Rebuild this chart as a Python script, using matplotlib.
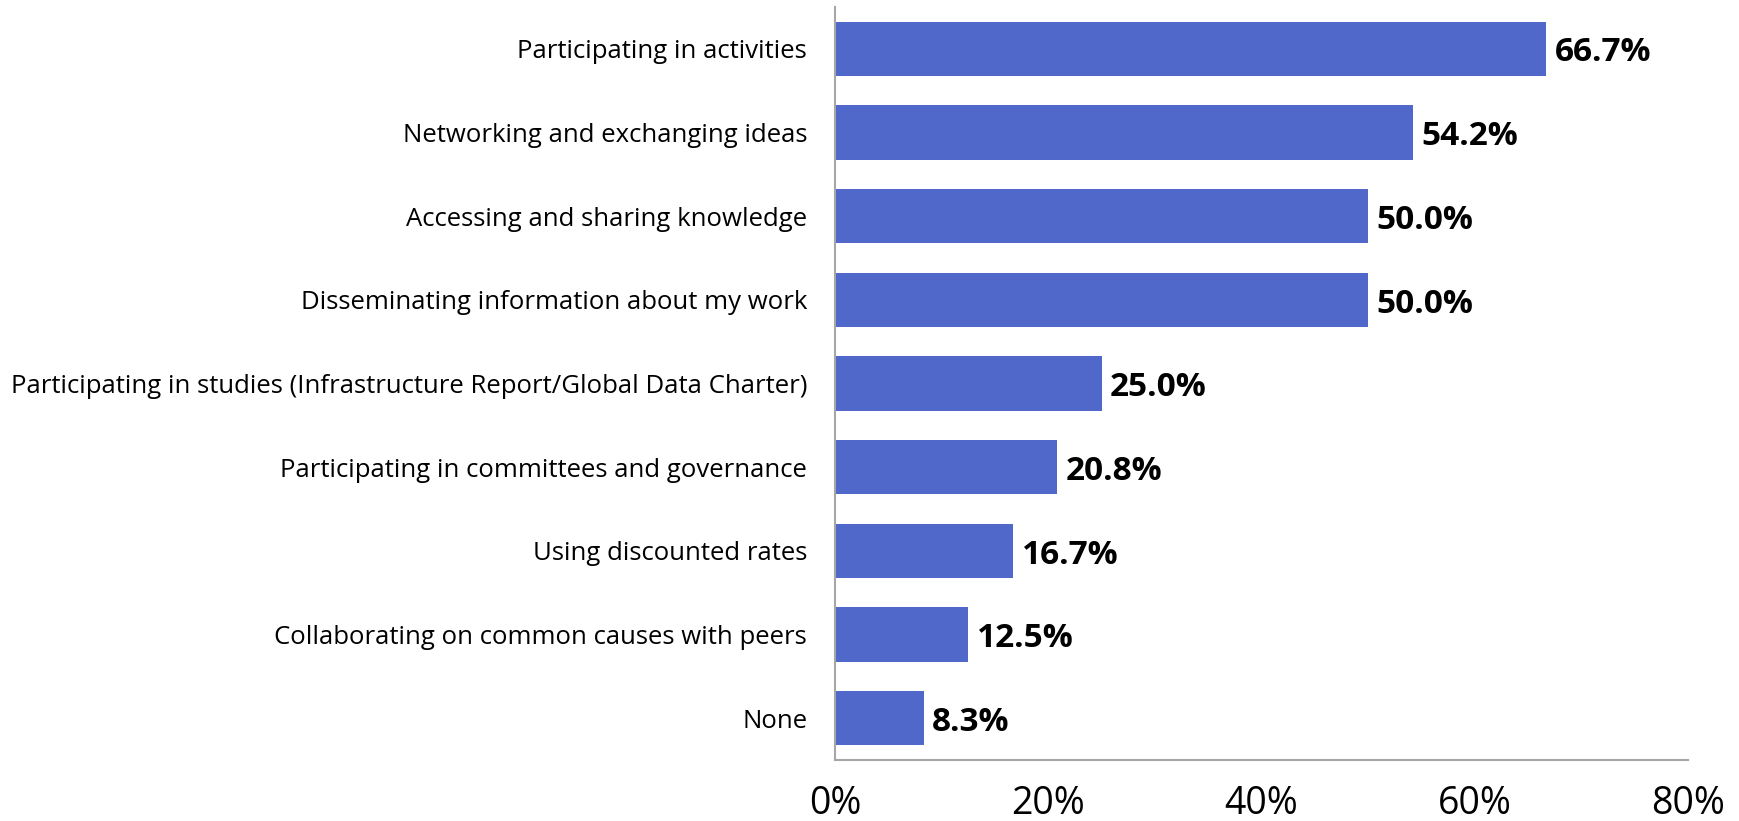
import matplotlib
matplotlib.use("Agg")
import matplotlib.pyplot as plt

plt.rcParams['font.family'] = ['Open Sans', 'DejaVu Sans']

categories = [
    "Participating in activities",
    "Networking and exchanging ideas",
    "Accessing and sharing knowledge",
    "Disseminating information about my work",
    "Participating in studies (Infrastructure Report/Global Data Charter)",
    "Participating in committees and governance",
    "Using discounted rates",
    "Collaborating on common causes with peers",
    "None",
]
values = [66.7, 54.2, 50.0, 50.0, 25.0, 20.8, 16.7, 12.5, 8.3]
xticks = [0, 20, 40, 60, 80]

fig = plt.figure(figsize=(17.4, 8.21), dpi=100)
ax = fig.add_axes([0.4799, 0.0743, 0.4902, 0.9172])

y = list(range(len(categories)))
ax.barh(y, values, height=0.65, color='#4F68C9')
ax.set_ylim(len(categories) - 0.5, -0.5)
ax.set_xlim(0, 80)

for yi, v in zip(y, values):
    ax.text(v + 0.8, yi + 0.05, f"{v:.1f}%", va='center', ha='left',
            fontsize=24, fontweight='bold', color='black')

ax.set_yticks(y)
ax.set_yticklabels(categories, fontsize=18.5)
ax.set_xticks(xticks)
ax.set_xticklabels([f"{t}%" for t in xticks], fontsize=27)
ax.tick_params(axis='both', length=0)
ax.tick_params(axis='y', pad=20)
ax.tick_params(axis='x', pad=18)

for s in ['top', 'right']:
    ax.spines[s].set_visible(False)
for s in ['left', 'bottom']:
    ax.spines[s].set_color('#A6A6A6')
    ax.spines[s].set_linewidth(1.5)

fig.savefig('out.png', dpi=100)
